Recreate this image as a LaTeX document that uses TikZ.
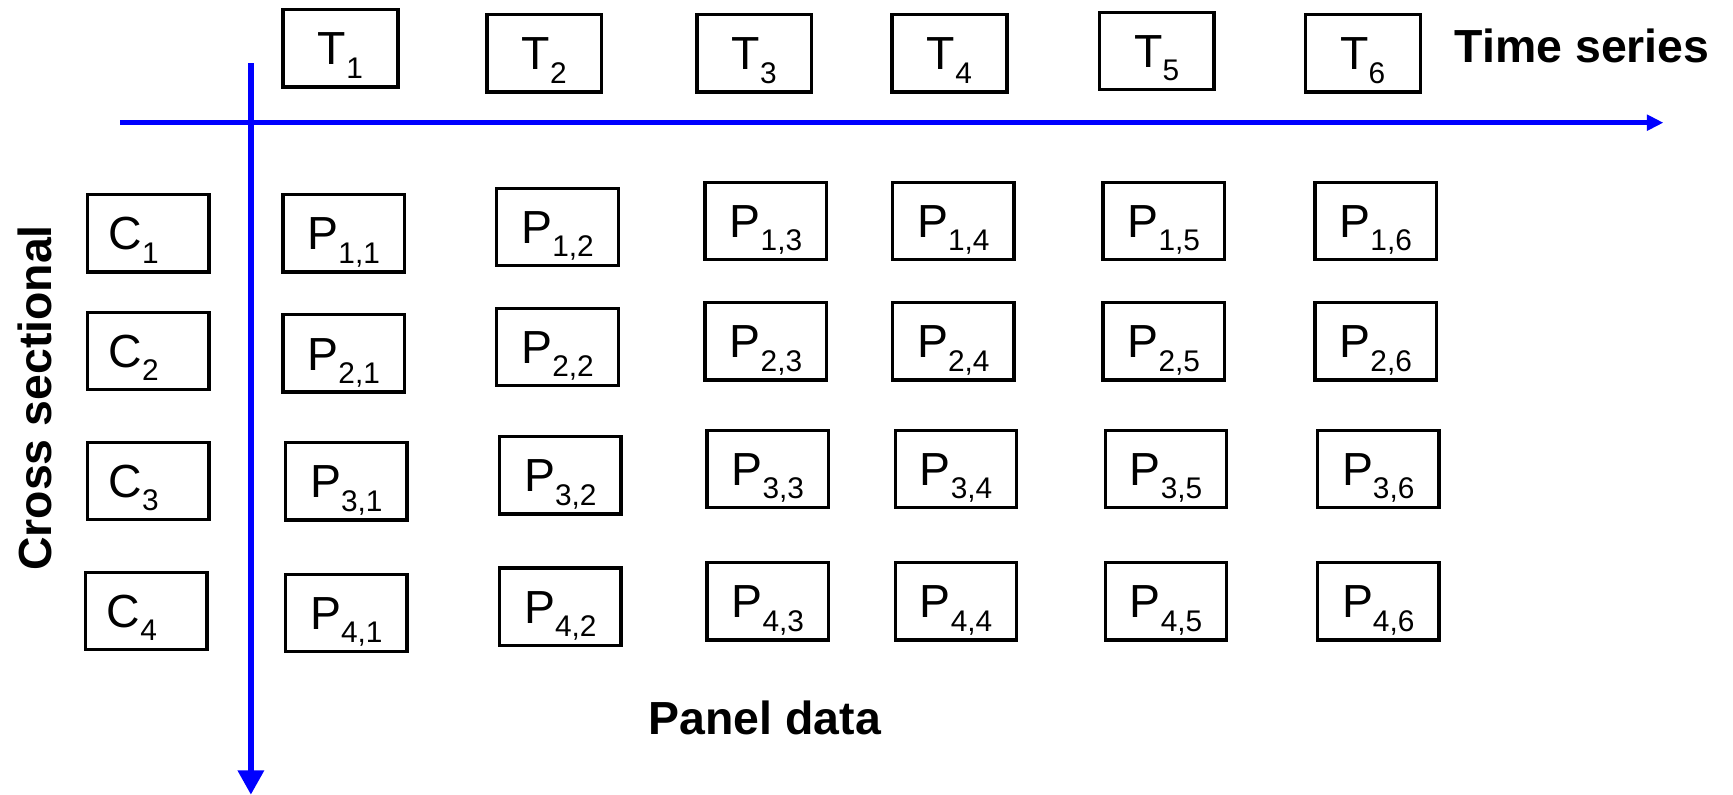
\documentclass[tikz,border=0pt]{standalone}
\usepackage{fontspec}
\setmainfont{Liberation Sans}
\usetikzlibrary{arrows.meta}
\newcommand\lsub[1]{\raisebox{-6pt}{\fontsize{13.5pt}{13.5pt}\selectfont #1}}
\begin{document}
\begin{tikzpicture}[x=0.5pt,y=-0.5pt,
  box/.style={draw=black, line width=1.5pt, inner sep=0pt, minimum width=55pt, minimum height=35pt,
    text height=15pt, text depth=0pt, font=\fontsize{21pt}{21pt}\selectfont},
  tbox/.style={box, minimum width=52pt, minimum height=35pt},
  title/.style={font=\fontsize{21pt}{21pt}\selectfont\bfseries, inner sep=0pt, anchor=base},
  axis/.style={draw=blue, line width=2.4pt}]
\useasboundingbox (0,0) rectangle (1568,719);
% axes
\coordinate (hs) at (109,111);
\coordinate (he) at (1505,111);
\coordinate (vs) at (227,57);
\coordinate (ve) at (227,719);
\draw[axis, -{Triangle[length=7.5pt,width=7pt]}] (hs) -- (he);
\draw[axis, -{Triangle[length=11pt,width=11.5pt]}] (vs) -- (ve);
% time boxes
\node[tbox] (T1) at (308,43.7) {T\lsub{1}};
\node[tbox] (T2) at (492.5,48.3) {T\lsub{2}};
\node[tbox] (T3) at (682.5,48.3) {T\lsub{3}};
\node[tbox] (T4) at (859,48.3) {T\lsub{4}};
\node[tbox] (T5) at (1046.5,46) {T\lsub{5}};
\node[tbox] (T6) at (1233,48.3) {T\lsub{6}};
% cross-section boxes
\node[box] (C1) at (134,211) {C\lsub{1}\kern13pt};
\node[box] (C2) at (134,317.6) {C\lsub{2}\kern13pt};
\node[box] (C3) at (134,435.2) {C\lsub{3}\kern13pt};
\node[box] (C4) at (132.3,552.8) {C\lsub{4}\kern13pt};
% row 1
\node[box] (P11) at (311,211) {P\lsub{1,1}};
\node[box] (P12) at (504.5,205.4) {P\lsub{1,2}};
\node[box] (P13) at (693,200) {P\lsub{1,3}};
\node[box] (P14) at (862.5,200) {P\lsub{1,4}};
\node[box] (P15) at (1053,200) {P\lsub{1,5}};
\node[box] (P16) at (1244.7,200) {P\lsub{1,6}};
% row 2
\node[box] (P21) at (311,319.8) {P\lsub{2,1}};
\node[box] (P22) at (504.5,314) {P\lsub{2,2}};
\node[box] (P23) at (693,308.7) {P\lsub{2,3}};
\node[box] (P24) at (862.5,308.7) {P\lsub{2,4}};
\node[box] (P25) at (1053,308.7) {P\lsub{2,5}};
\node[box] (P26) at (1244.7,308.7) {P\lsub{2,6}};
% row 3
\node[box] (P31) at (313.3,435.5) {P\lsub{3,1}};
\node[box] (P32) at (507,430) {P\lsub{3,2}};
\node[box] (P33) at (694.7,424.2) {P\lsub{3,3}};
\node[box] (P34) at (865,424.2) {P\lsub{3,4}};
\node[box] (P35) at (1055,424.2) {P\lsub{3,5}};
\node[box] (P36) at (1247,424.2) {P\lsub{3,6}};
% row 4
\node[box] (P41) at (313.3,554.6) {P\lsub{4,1}};
\node[box] (P42) at (507,549) {P\lsub{4,2}};
\node[box] (P43) at (694.7,544) {P\lsub{4,3}};
\node[box] (P44) at (865,544) {P\lsub{4,4}};
\node[box] (P45) at (1055,544) {P\lsub{4,5}};
\node[box] (P46) at (1247,544) {P\lsub{4,6}};
% titles
\node[title] (ts) at (1431.5,56.5) {Time series};
\node[title] (pd) at (692,665) {Panel data};
\node[title, rotate=90] (cs) at (46.4,360) {Cross sectional};
\end{tikzpicture}
\end{document}
